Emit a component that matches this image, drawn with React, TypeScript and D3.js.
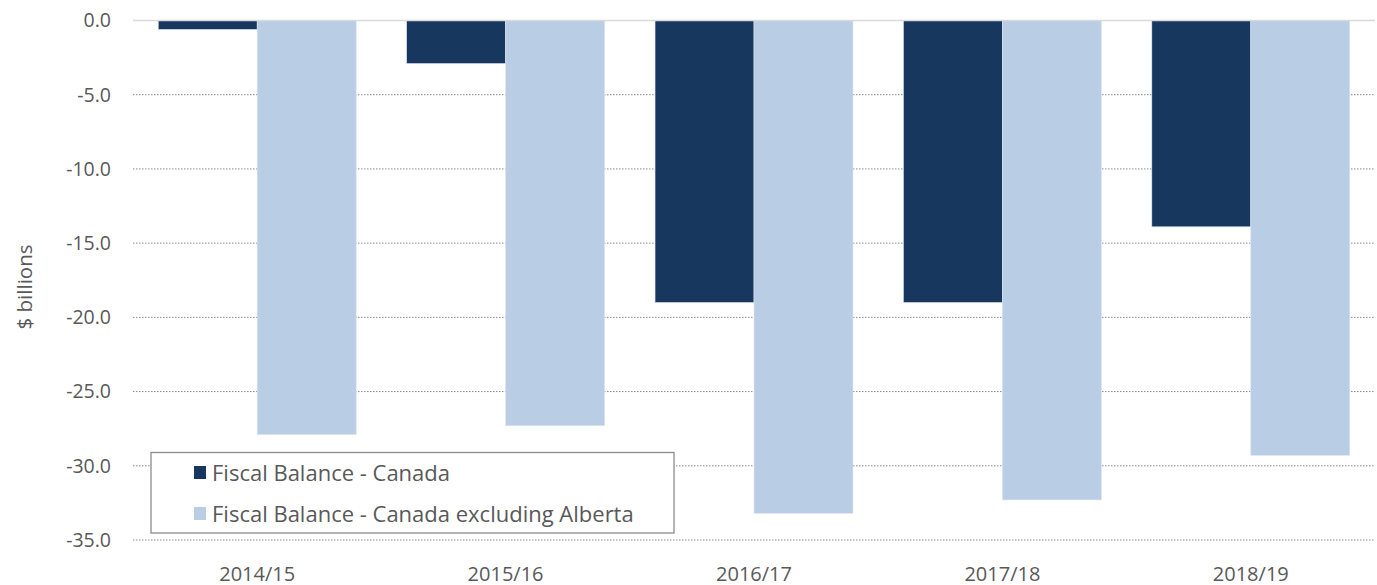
import React from "react";
import * as d3 from "d3";

const categories = ["2014/15", "2015/16", "2016/17", "2017/18", "2018/19"];
const seriesNames = ["Fiscal Balance - Canada", "Fiscal Balance - Canada excluding Alberta"];
const canada = [-0.6, -2.9, -19.0, -19.0, -13.9];
const canadaExAlberta = [-27.9, -27.3, -33.2, -32.3, -29.3];
const seriesColors = ["#17375E", "#B9CDE5"];
const yTicks = [0, -5, -10, -15, -20, -25, -30, -35];

const W = 1377;
const H = 585;
const left = 133;
const right = 1375;
const top = 20.5;
const bottom = 540;
const FONT = "'Open Sans', sans-serif";
const TXT = "#595959";

export default function App() {
  const x = d3.scaleBand<string>().domain(categories).range([left, right]).padding(0);
  const xi = d3
    .scaleBand<string>()
    .domain(seriesNames)
    .range([0, x.bandwidth()])
    .paddingInner(0)
    .paddingOuter(0.255);
  const y = d3.scaleLinear().domain([-35, 0]).range([bottom, top]);
  const data = [canada, canadaExAlberta];

  return (
    <svg
      width={W}
      height={H}
      style={{ position: "absolute", left: 0, top: 0, background: "#fff" }}
      fontFamily={FONT}
    >
      {yTicks.map((t) =>
        t === 0 ? null : (
          <line
            key={"g" + t}
            x1={left}
            x2={right}
            y1={y(t)}
            y2={y(t)}
            stroke="#8c8c8c"
            strokeWidth={1}
            strokeDasharray="1.5,1.5"
          />
        )
      )}
      {data.map((vals, si) =>
        categories.map((c, ci) => {
          const v = vals[ci];
          const x0 = (x(c) as number) + (xi(seriesNames[si]) as number);
          return (
            <rect
              key={si + "-" + ci}
              x={x0}
              y={y(0)}
              width={xi.bandwidth()}
              height={y(v) - y(0)}
              fill={seriesColors[si]}
              stroke="#dbe4f0"
              strokeWidth={0.6}
            />
          );
        })
      )}
      <line x1={left} x2={right} y1={y(0)} y2={y(0)} stroke="#d9d9d9" strokeWidth={1.5} />
      {yTicks.map((t) => (
        <text
          key={"t" + t}
          x={111}
          y={y(t)}
          dy="0.35em"
          textAnchor="end"
          fontSize={19.5}
          fill={TXT}
        >
          {t.toFixed(1)}
        </text>
      ))}
      {categories.map((c) => (
        <text
          key={"x" + c}
          x={(x(c) as number) + x.bandwidth() / 2}
          y={574}
          dy="0.35em"
          textAnchor="middle"
          fontSize={20}
          fill={TXT}
        >
          {c}
        </text>
      ))}
      <text
        transform={`translate(25,287) rotate(-90)`}
        textAnchor="middle"
        dy="0.35em"
        fontSize={20.5}
        fill={TXT}
      >
        $ billions
      </text>
      <g>
        <rect x={151} y={452.5} width={523} height={80.5} fill="#fff" stroke="#8c8c8c" strokeWidth={1.3} />
        {seriesNames.map((s, i) => (
          <g key={"l" + i}>
            <rect x={194} y={466 + i * 41} width={12} height={13} fill={seriesColors[i]} />
            <text x={212} y={473 + i * 41} dy="0.35em" fontSize={22} fill={TXT}>
              {s}
            </text>
          </g>
        ))}
      </g>
    </svg>
  );
}
